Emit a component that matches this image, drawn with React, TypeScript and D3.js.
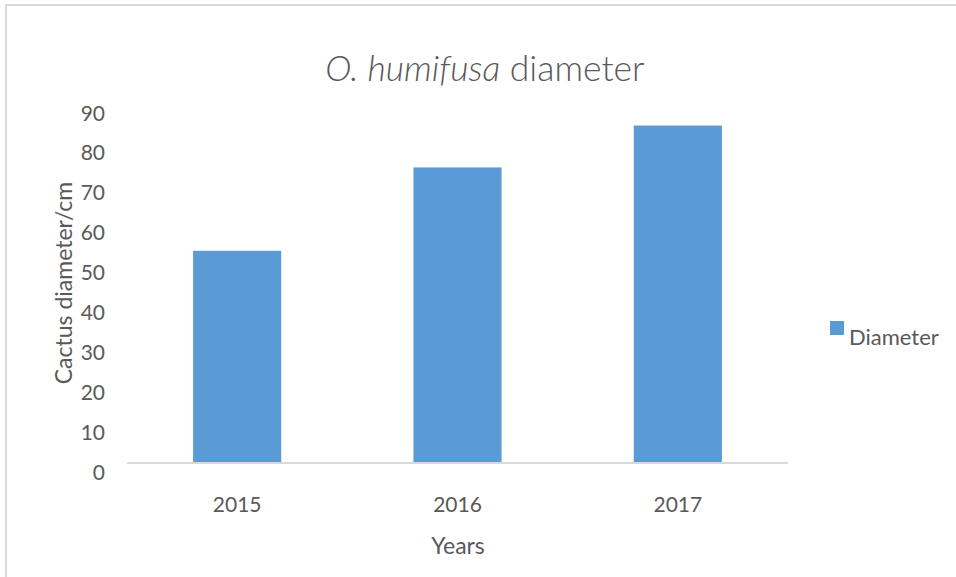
import * as d3 from 'd3';

const years = ['2015', '2016', '2017'];
const diameter = [53.2, 74.1, 84.6];
const yTicks = [0, 10, 20, 30, 40, 50, 60, 70, 80, 90];

const W = 956;
const H = 577;
const margin = { top: 104, left: 127, right: 168, bottom: 114 };
const font = 'Lato, "Open Sans", sans-serif';
const textColor = '#595959';
const barColor = '#5b9bd5';

const App = () => {
  const x = d3
    .scaleBand()
    .domain(years)
    .range([margin.left, W - margin.right])
    .paddingInner(0.6)
    .paddingOuter(0.3);

  const y = d3
    .scaleLinear()
    .domain([0, 90])
    .range([H - margin.bottom, margin.top]);

  // tick labels sit a bit lower than their gridline positions in the original
  const labelShift = 9;

  return (
    <svg
      width={W}
      height={H}
      style={{ position: 'absolute', left: 0, top: 0, background: '#fff' }}
      fontFamily={font}
    >
      <rect x={6} y={5} width={W + 10} height={H + 10} fill="none" stroke="#d9d9d9" strokeWidth={2} />

      <text x={485} y={81} textAnchor="middle" fontSize={35.5} fill={textColor} fontWeight={300}>
        <tspan fontStyle="italic">O. humifusa</tspan>
        <tspan> diameter</tspan>
      </text>

      {yTicks.map((t) => (
        <text
          key={t}
          x={105}
          y={y(t) + labelShift}
          dy="0.36em"
          textAnchor="end"
          fontSize={21}
          fill={textColor}
        >
          {t}
        </text>
      ))}

      {years.map((yr, i) => (
        <rect
          key={yr}
          x={x(yr)}
          y={y(diameter[i])}
          width={x.bandwidth()}
          height={y(0) - y(diameter[i])}
          fill={barColor}
        />
      ))}

      <line
        x1={margin.left}
        x2={W - margin.right}
        y1={y(0)}
        y2={y(0)}
        stroke="#d9d9d9"
        strokeWidth={2}
      />

      {years.map((yr) => (
        <text
          key={yr}
          x={(x(yr) ?? 0) + x.bandwidth() / 2}
          y={512}
          textAnchor="middle"
          fontSize={21}
          fill={textColor}
        >
          {yr}
        </text>
      ))}

      <text x={458} y={554} textAnchor="middle" fontSize={23} fill={textColor}>
        Years
      </text>

      <text
        transform="translate(72,283) rotate(-90)"
        textAnchor="middle"
        fontSize={23}
        fill={textColor}
      >
        Cactus diameter/cm
      </text>

      <rect x={830} y={321} width={14} height={14} fill={barColor} />
      <text x={849} y={345} fontSize={22} fill={textColor}>
        Diameter
      </text>
    </svg>
  );
};

export default App;
